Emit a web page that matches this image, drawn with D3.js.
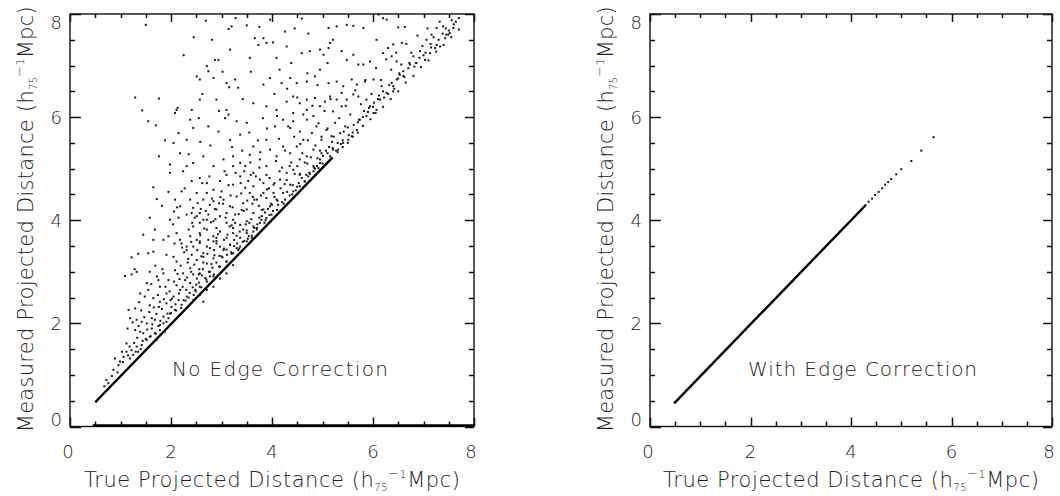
<!DOCTYPE html>
<html><head><meta charset="utf-8">
<script src="https://cdn.jsdelivr.net/npm/d3@7"></script>
<style>
html,body{margin:0;padding:0;background:#fff;}
svg{display:block;}
text{font-family:"DejaVu Sans","Liberation Sans",sans-serif;font-weight:200;fill:#222;}
</style>
</head><body>
<svg id="chart" width="1060" height="496"></svg>
<script>
// Axis ticks (h75^-1 Mpc)
const majorTicks = [0, 2, 4, 6, 8];
const minorTicks = [0.5, 1, 1.5, 2.5, 3, 3.5, 4.5, 5, 5.5, 6.5, 7, 7.5];

// Left panel: galaxy pairs without edge correction [true, measured]
const leftScatter = [
  [1.50,7.79],[2.69,7.87],[3.14,7.71],[3.20,7.76],[3.50,7.78],[4.26,7.66],[3.96,7.89],[4.59,7.91],
  [5.12,7.73],[5.28,7.76],[5.48,7.79],[5.61,7.77],[5.81,7.73],[6.11,7.99],[6.20,7.92],[6.27,7.89],
  [6.50,7.74],[6.63,7.75],[7.16,7.60],[7.26,7.73],[7.39,7.76],[7.52,7.63],[7.59,7.73],
  [2.81,7.50],[3.17,7.31],[3.66,7.53],[3.83,7.53],[3.89,7.44],[4.29,7.37],[3.73,7.40],
  [2.71,6.99],[2.87,7.11],[2.94,7.11],[3.56,7.15],[4.09,7.15],[4.59,7.24],[4.75,7.28],[4.95,7.31],
  [5.02,7.21],[5.12,7.34],[5.15,7.44],[5.21,7.50],[5.38,7.28],[5.48,7.11],[5.61,7.21],[5.71,7.02],
  [5.81,7.02],[5.94,7.08],[6.07,7.50],[6.20,7.24],[6.30,7.34],[6.40,7.41],[6.37,7.18],[6.47,7.08],
  [6.57,7.44],[6.80,7.18],[6.93,7.28],[7.03,7.11],[7.13,7.24],[7.23,7.34],[7.33,7.37],[7.43,7.53],
  [7.49,7.60],[6.86,7.05],[6.73,7.02],[6.60,6.89],[7.06,7.50],
  [2.51,6.79],[2.57,6.73],[2.74,6.89],[2.84,6.76],[3.10,6.66],[3.27,6.73],[3.33,6.57],
  [2.57,6.34],[2.41,6.14],[2.11,6.14],[2.08,6.08],[2.90,6.34],[3.10,6.14],[3.14,6.05],[3.63,6.27],
  [3.83,6.63],[3.96,6.76],[4.19,6.66],[4.36,6.76],[4.49,6.66],[4.69,6.69],[4.85,6.79],[4.95,6.92],
  [5.12,6.66],[5.28,6.69],[5.41,6.60],[5.58,6.73],[5.68,6.63],[5.84,6.69],[6.01,6.73],[6.17,6.60],
  [6.37,6.66],[6.47,6.73],[6.53,6.82],
  [3.89,6.21],[4.09,6.14],[4.29,6.30],[4.42,6.40],[4.55,6.27],[4.69,6.34],[4.85,6.37],[4.95,6.21],
  [5.05,6.30],[5.15,6.40],[5.28,6.34],[5.38,6.47],[5.48,6.34],[5.61,6.44],[5.71,6.40],[5.87,6.34],
  [5.94,6.21],[6.07,6.14],[6.27,6.47],[6.40,6.50],[6.14,6.34],[5.38,6.21],[5.21,6.11],[4.42,6.08],
  [4.69,6.14],
  [1.29,6.38],[1.43,6.13],[1.76,6.36],[1.55,5.92],[1.70,5.84],[1.76,5.24],[2.13,6.18],
  [2.38,5.95],[2.55,5.98],[2.44,5.79],[2.15,5.69],[2.05,5.50],[2.31,5.56],[2.18,5.30],[1.98,5.08],
  [2.74,5.82],[2.94,5.72],[3.17,5.56],[3.37,5.66],[3.50,5.89],[3.07,5.98],[3.63,5.43],[3.89,5.56],
  [4.06,5.82],[4.22,5.95],[4.36,5.79],[4.42,5.92],[4.55,5.72],[4.69,5.95],[4.62,5.56],[4.79,5.69],
  [4.88,5.82],[4.98,5.56],[5.08,5.75],[5.18,5.63],[5.25,5.89],[5.35,5.69],[5.45,5.82],[5.58,5.63],
  [5.68,5.75],[5.74,5.95],[5.87,6.02],[6.01,6.08],[5.41,5.50],[5.31,5.37],[5.15,5.24],[4.98,5.30],
  [4.82,5.37],[4.69,5.24],[4.49,5.43],[4.36,5.30],[4.22,5.43],[4.09,5.24],[3.96,5.37],[3.76,5.18],
  [3.56,5.27],[3.37,5.11],[3.23,5.24],[3.04,5.18],[2.84,5.05],[2.64,5.24],[2.44,5.11],[2.31,5.05],
  [4.55,5.18],[4.95,5.11],[4.82,5.05],[5.21,5.37],[5.51,5.56],
  [1.98,4.92],[2.24,4.95],[2.41,4.76],[2.57,4.82],[2.71,4.72],[2.21,4.56],[2.51,4.53],[2.64,4.40],
  [2.84,4.59],[2.97,4.76],[3.10,4.88],[3.23,4.69],[3.37,4.85],[3.53,4.76],[3.63,4.92],[3.76,4.79],
  [3.89,4.88],[4.03,4.69],[4.16,4.79],[4.29,4.92],[4.42,4.98],[4.55,4.88],[4.72,4.85],[4.82,4.95],
  [4.92,5.01],[4.36,4.69],[4.22,4.53],[4.09,4.40],[3.96,4.27],[3.83,4.53],[3.70,4.40],[3.56,4.53],
  [3.43,4.33],[3.30,4.46],[3.17,4.27],[3.04,4.40],[2.90,4.21],[2.77,4.30],[2.57,4.14],[2.44,4.24],
  [2.31,4.11],[2.08,4.40],[1.65,4.64],[1.72,4.41],[2.06,4.17],[3.27,4.11],[3.63,4.14],[3.83,4.21],
  [4.12,4.30],[4.26,4.40],[4.42,4.56],[4.55,4.66],[4.65,4.76],[4.03,4.53],[3.50,4.21],[3.10,4.14],
  [2.84,4.37],[2.71,4.53],[3.23,5.05],[3.89,4.43],[3.63,4.66],[3.47,4.63],[3.00,4.56],[2.38,4.40],
  [2.18,4.27],
  [2.41,4.14],[2.51,4.08],[2.64,4.01],[2.74,4.11],[2.84,3.98],[2.97,4.08],[3.10,3.95],[3.23,4.01],
  [3.37,3.91],[3.50,3.98],[3.63,3.88],[3.76,3.95],[3.89,4.04],[3.99,4.11],[2.44,3.88],[2.57,3.75],
  [2.71,3.82],[2.84,3.69],[2.97,3.78],[3.10,3.66],[3.23,3.75],[3.37,3.66],[3.50,3.75],[3.60,3.66],
  [2.57,3.56],[2.71,3.49],[2.84,3.59],[2.97,3.49],[3.17,3.53],[3.30,3.46],[2.31,3.49],[2.11,3.75],
  [2.18,3.62],[1.98,4.01],[2.15,4.05],[1.68,3.82],[1.65,3.62],[1.95,3.69],[2.71,4.01],[2.90,3.85],
  [3.23,3.85],[3.43,3.82],[3.63,3.78],[2.57,3.95],[2.38,3.69],[2.51,3.62],[3.10,3.43],[2.90,3.66],
  [3.79,4.01],
  [1.09,2.92],[1.22,2.95],[1.32,3.00],[1.22,3.28],[1.55,3.36],[1.65,3.39],[1.91,3.33],[2.05,3.29],
  [1.85,2.97],[1.75,2.84],[1.58,3.00],[2.21,3.55],[2.31,3.42],[2.44,3.49],[2.57,3.59],[2.64,3.36],
  [2.77,3.46],[2.90,3.55],[3.04,3.42],[3.17,3.52],[3.23,3.36],[3.37,3.49],[3.50,3.59],[2.51,3.23],
  [2.71,3.16],[2.84,3.26],[2.97,3.10],[3.10,3.20],[3.23,3.13],[2.38,3.07],[2.24,2.97],[2.08,3.03],
  [2.57,2.97],[2.77,3.00],[2.94,2.94],[2.64,3.29],[2.41,3.33],[2.11,3.20],
  [1.39,2.58],[1.55,2.65],[1.65,2.49],[1.78,2.42],[1.91,2.39],[2.05,2.52],[2.18,2.65],[2.28,2.84],
  [2.38,2.78],[2.51,2.87],[2.57,2.71],[2.71,2.81],[2.84,2.91],[2.97,2.87],[3.10,2.97],[2.11,2.74],
  [1.95,2.84],[1.78,2.71],[2.31,2.52],[2.44,2.45],[2.57,2.55],[2.71,2.65],[2.84,2.71],[2.21,2.36],
  [2.01,2.32],[1.29,2.29],[1.52,2.78],[1.72,2.91],[2.48,2.65],[2.64,2.42],[2.15,2.45],[1.91,2.58],
  [1.19,2.10],[1.32,2.07],[1.42,2.03],[1.52,2.00],[1.62,2.10],[1.68,2.07],[1.78,1.97],[1.85,2.13],
  [1.91,2.03],[1.98,2.19],[1.45,1.81],[1.58,1.74],[1.68,1.81],[1.78,1.87],[1.39,1.84],[1.52,1.68],
  [1.29,1.87],[2.08,2.26],[1.62,1.90],[1.16,2.26],[1.72,1.68],[1.88,1.84],
  [1.12,1.61],[1.22,1.48],[1.32,1.55],[1.42,1.58],[1.06,1.35],[1.19,1.32],[1.25,1.39],[0.89,1.32],
  [0.96,1.19],[0.86,1.10],[0.76,0.84],[1.12,1.45],[1.35,1.45],[0.99,1.26],
  [1.30,1.45],[1.40,1.50],[1.50,1.70],[1.60,1.75],[1.70,1.80],[1.75,1.95],[1.85,2.00],[1.95,2.10],
  [2.00,2.20],[2.10,2.25],[2.20,2.30],[2.25,2.45],[2.35,2.50],[2.45,2.55],[2.50,2.75],[2.60,2.70],
  [2.70,2.85],[2.75,3.00],[2.85,2.95],[2.95,3.10],[3.00,3.30],[3.10,3.20],[3.20,3.35],[3.25,3.50],
  [3.35,3.45],[3.45,3.60],[3.50,3.80],[3.60,3.70],[3.70,3.85],[3.75,4.05],[3.85,3.95],[3.95,4.10],
  [4.00,4.30],[4.10,4.20],[4.20,4.35],[4.30,4.55],[4.40,4.50],[4.50,4.65],[4.55,4.90],[4.65,4.75],
  [4.75,4.90],[4.85,5.00],[4.90,5.20],[5.00,5.10],[5.10,5.30],[5.20,5.40],[5.30,5.50],[5.40,5.55],
  [5.50,5.80],[5.60,5.70],[5.70,5.90],[5.80,6.00],[5.90,6.10],[6.00,6.20],[6.10,6.35],[6.20,6.50],
  [6.30,6.45],[6.40,6.60],[6.50,6.75],[6.60,6.80],[6.70,6.95],[6.85,7.05],[7.00,7.20],[7.15,7.35],
  [7.30,7.50],[7.45,7.60],[7.60,7.80],
  [2.30,2.65],[2.55,2.95],[2.80,3.15],[3.05,3.45],[3.30,3.70],[3.55,3.95],[3.80,4.20],[4.05,4.45],
  [4.25,4.70],[4.45,4.90],[4.70,5.10],[4.95,5.35],[3.20,3.90],[3.40,4.20],[3.65,4.40],[3.90,4.60],
  [4.15,4.95],[4.35,5.05],[4.60,5.30],[2.90,3.60],[2.60,3.30],[2.40,3.00],
  [1.05,1.25],[1.15,1.38],[1.18,1.55],[1.27,1.62],[1.33,1.72],[1.36,1.95],[1.44,1.66],[1.47,2.12],
  [1.53,1.88],[1.57,2.22],[1.63,1.98],[1.66,2.31],[1.71,2.18],[1.74,2.55],[1.79,2.05],[1.82,2.28],
  [1.86,2.47],[1.89,2.71],[1.93,2.19],[1.97,2.62],[1.24,2.02],[1.37,2.41],[1.48,2.52],[1.61,2.76],
  [1.69,3.12],[1.83,3.05],[1.14,1.90],[1.41,2.25],[1.58,2.35],[1.76,2.32],[1.99,2.45],[1.03,1.45],
  [0.94,1.05],[0.83,0.98],[0.72,0.90],[0.68,0.78],
  [2.02,2.48],[2.06,2.81],[2.09,2.37],[2.13,2.96],[2.16,2.58],[2.19,3.12],[2.23,2.71],[2.26,3.38],
  [2.29,2.44],[2.32,2.89],[2.34,3.25],[2.37,2.59],[2.40,3.58],[2.43,2.70],[2.46,3.14],[2.49,2.62],
  [2.52,3.42],[2.55,2.79],[2.58,3.71],[2.61,2.93],[2.63,3.05],[2.66,3.84],[2.68,2.88],[2.72,3.35],
  [2.74,3.62],[2.77,2.91],[2.79,3.96],[2.82,3.08],[2.85,3.42],[2.87,4.22],[2.90,3.18],[2.93,3.73],
  [2.96,3.31],[2.98,4.45],[2.04,3.92],[2.12,4.25],[2.27,4.62],[2.35,3.82],[2.47,4.05],[2.53,4.33],
  [2.62,4.72],[2.69,4.18],[2.76,4.85],[2.88,4.02],[2.95,4.33],[2.22,3.47],[2.42,3.95],[2.59,4.22],
  [2.81,4.42],[2.07,3.55],[2.17,2.86],[2.44,2.95],[2.64,3.18],[2.86,3.32],[2.33,3.18],[2.56,3.05],
  [3.02,3.28],[3.05,3.62],[3.08,4.05],[3.11,3.33],[3.14,4.68],[3.16,3.88],[3.19,3.38],[3.22,4.25],
  [3.25,3.62],[3.28,4.92],[3.31,3.55],[3.34,4.12],[3.36,3.78],[3.39,4.52],[3.42,3.58],[3.45,4.95],
  [3.48,3.92],[3.51,4.38],[3.54,3.69],[3.57,5.12],[3.59,4.02],[3.62,4.45],[3.65,3.85],[3.68,4.85],
  [3.71,3.92],[3.74,4.28],[3.77,5.32],[3.80,4.08],[3.83,4.72],[3.86,4.15],[3.89,5.05],[3.92,4.22],
  [3.95,4.82],[3.98,4.32],[3.06,4.95],[3.21,5.42],[3.41,5.35],[3.55,5.70],[3.72,5.55],[3.90,5.78],
  [3.12,3.72],[3.27,3.95],[3.44,4.18],[3.61,4.32],[3.78,4.48],[3.94,4.62],[3.18,4.48],[3.38,4.72],
  [3.58,4.88],[3.75,5.02],[3.33,3.42],[3.52,3.64],[3.70,3.82],[3.87,4.00],[3.03,4.32],[3.47,5.05],
  [4.02,4.18],[4.05,4.72],[4.08,5.15],[4.11,4.38],[4.14,5.58],[4.17,4.62],[4.20,5.02],[4.23,4.32],
  [4.26,5.35],[4.29,4.78],[4.32,5.82],[4.35,4.48],[4.38,5.12],[4.41,4.68],[4.44,5.62],[4.47,4.58],
  [4.50,5.05],[4.53,4.72],[4.56,5.48],[4.59,4.82],[4.62,6.05],[4.65,5.12],[4.68,4.88],[4.71,5.55],
  [4.74,4.92],[4.77,5.22],[4.80,6.22],[4.83,5.02],[4.86,5.45],[4.89,5.05],[4.92,5.88],[4.95,5.18],
  [4.98,5.62],[5.01,5.25],[5.04,6.12],[5.07,5.35],[5.10,5.78],[5.13,5.42],[5.16,6.35],[5.19,5.52],
  [4.10,6.02],[4.30,6.55],[4.50,6.38],[4.70,6.85],[4.90,6.62],[5.10,7.05],
  [5.22,5.62],[5.27,5.35],[5.33,5.98],[5.36,5.48],[5.42,5.72],[5.46,6.22],[5.52,5.65],[5.55,6.05],
  [5.62,5.85],[5.65,6.52],[5.72,5.95],[5.76,6.25],[5.82,6.12],[5.85,6.72],[5.92,6.18],[5.97,6.45],
  [6.02,6.28],[6.06,6.95],[6.12,6.42],[6.16,6.72],[6.22,6.38],[6.26,7.12],[6.32,6.62],[6.36,6.92],
  [6.42,6.55],[6.46,7.25],[6.52,6.85],[6.56,7.02],[6.62,6.78],[6.66,7.42],[6.72,7.05],[6.76,7.25],
  [6.82,6.98],[6.88,7.58],[6.92,7.15],[6.98,7.38],[7.04,7.25],[7.08,7.72],[7.14,7.42],[7.20,7.55],
  [7.26,7.40],[7.32,7.85],[7.38,7.62],[7.44,7.72],[7.50,7.68],[7.56,7.88],[7.64,7.85],[7.70,7.92],
  [2.25,7.20],[2.45,7.55],[2.62,6.45],[3.02,6.88],[3.28,7.92],[3.42,6.35],[3.58,6.88],[3.75,7.75],
  [4.02,7.45],[4.15,6.92],[4.45,7.72],[4.38,7.05],[4.72,7.62],[4.82,6.02],[3.15,6.58],[2.95,6.12],
  [2.78,5.45],[3.30,5.92],[3.82,5.98],[4.05,6.45],[2.35,5.28],[2.58,5.52],[1.88,5.55],[1.95,4.55],
  [1.82,4.28],[1.58,4.05],[1.45,3.72],[1.35,3.35],[1.28,3.05],[1.85,3.62]
];

// Pairs whose measured distance equals the true one (dense run, then sparse)
const leftExactRun = [[0.50, 0.47], [5.20, 5.22]];
const leftExactDots = [
  [5.30,5.32],[5.40,5.42],[5.50,5.50],[5.60,5.62],[5.70,5.70],[5.80,5.83],[5.95,5.96],[6.05,6.08],
  [6.20,6.20],[6.35,6.35],[6.50,6.50],[6.65,6.67],[6.80,6.80],[6.95,6.97],[7.10,7.10],[7.25,7.27],
  [7.40,7.40],[7.55,7.55],[7.70,7.70]
];
// Pairs with no measured partner, piled up at zero
const leftZeroRun = [[0.45, 0], [8.0, 0]];

// Right panel: with edge correction
const rightExactRun = [[0.48, 0.45], [4.30, 4.30]];
const rightExactDots = [
  [4.35,4.36],[4.42,4.42],[4.48,4.49],[4.55,4.55],[4.62,4.62],[4.68,4.69],[4.74,4.74],[4.80,4.80],
  [4.90,4.89],[5.00,4.99],[5.20,5.15],[5.40,5.35],[5.64,5.61]
];

const panels = [
  {x0: 70, x1: 474, note: "No Edge Correction", noteX: 172, noteW: 216,
   scatter: leftScatter, run: leftExactRun, dots: leftExactDots, zero: leftZeroRun},
  {x0: 650, x1: 1052, note: "With Edge Correction", noteX: 748, noteW: 229,
   scatter: [], run: rightExactRun, dots: rightExactDots, zero: null}
];

const plotTop = 14, plotBottom = 426.5;
const svg = d3.select("#chart");

function titleText(sel, lead) {
  sel.append("tspan").text(lead + " (h");
  sel.append("tspan").attr("font-size", "10px").attr("dy", 4).text("75");
  sel.append("tspan").attr("font-size", "13px").attr("dy", -13).text("\u2212");
  sel.append("tspan").attr("font-size", "11px").text("1");
  sel.append("tspan").attr("dy", 9).text("Mpc)");
}

panels.forEach(p => {
  const x = d3.scaleLinear().domain([0, 8]).range([p.x0, p.x1]);
  const y = d3.scaleLinear().domain([0, 8]).range([plotBottom, plotTop]);
  const g = svg.append("g");

  // inward tick marks on all four sides
  const tickSets = [[majorTicks, 9, 11], [minorTicks, 5, 5]];
  tickSets.forEach(([vals, lenX, lenY]) => {
    const tk = g.append("g").attr("stroke", "#111").attr("stroke-width", 1.5);
    vals.forEach(v => {
      const xv = Math.round(x(v)) + 0.5, yv = Math.round(y(v)) + 0.5;
      tk.append("line").attr("x1", xv).attr("x2", xv).attr("y1", plotBottom).attr("y2", plotBottom - lenX);
      tk.append("line").attr("x1", xv).attr("x2", xv).attr("y1", plotTop).attr("y2", plotTop + lenX - 1);
      tk.append("line").attr("y1", yv).attr("y2", yv).attr("x1", p.x0).attr("x2", p.x0 + lenY);
      tk.append("line").attr("y1", yv).attr("y2", yv).attr("x1", p.x1).attr("x2", p.x1 - lenX);
    });
  });

  // frame
  g.append("rect").attr("x", p.x0).attr("y", plotTop)
    .attr("width", p.x1 - p.x0).attr("height", plotBottom - plotTop)
    .attr("fill", "none").attr("stroke", "#111").attr("stroke-width", 1.4);

  // tick labels
  g.selectAll(".xl").data(majorTicks).join("text")
    .attr("x", d => x(d) - (d === 0 ? 2 : d === 8 ? 3 : 0)).attr("y", 458)
    .attr("text-anchor", "middle").attr("font-size", "18px").text(d => d);
  g.selectAll(".yl").data(majorTicks).join("text")
    .attr("x", p.x0 - 8)
    .attr("y", d => Math.min(Math.max(y(d), plotTop + 8), plotBottom - 7) + 6.5)
    .attr("text-anchor", "end").attr("font-size", "18px").text(d => d);

  // axis titles
  g.append("text").attr("x", (p.x0 + p.x1) / 2).attr("y", 487)
    .attr("text-anchor", "middle").attr("font-size", "21px")
    .attr("textLength", 376).attr("lengthAdjust", "spacing")
    .call(s => titleText(s, "True Projected Distance"));
  g.append("text")
    .attr("transform", `translate(${p.x0 - 37},${(plotTop + plotBottom) / 2 - 1}) rotate(-90)`)
    .attr("text-anchor", "middle").attr("font-size", "21px")
    .attr("textLength", 426).attr("lengthAdjust", "spacing")
    .call(s => titleText(s, "Measured Projected Distance"));

  // annotation
  g.append("text").attr("x", p.noteX).attr("y", 376)
    .attr("font-size", "20px")
    .attr("textLength", p.noteW).attr("lengthAdjust", "spacing").text(p.note);

  // data
  const line = d3.line().x(d => x(d[0])).y(d => y(d[1]));
  if (p.zero) {
    g.append("path").datum(p.zero).attr("d", line)
      .attr("transform", "translate(0,-1)")
      .attr("stroke", "#000").attr("stroke-width", 2.6).attr("fill", "none");
  }
  g.append("path").datum(p.run).attr("d", line)
    .attr("stroke", "#000").attr("stroke-width", 2.4).attr("fill", "none");

  const pts = p.scatter.concat(p.dots);
  g.selectAll(".pt").data(pts).join("rect")
    .attr("x", d => x(d[0]) - 1).attr("y", d => y(d[1]) - 1)
    .attr("width", 2).attr("height", 2).attr("fill", "#1a1a1a");
});
</script>
</body></html>
